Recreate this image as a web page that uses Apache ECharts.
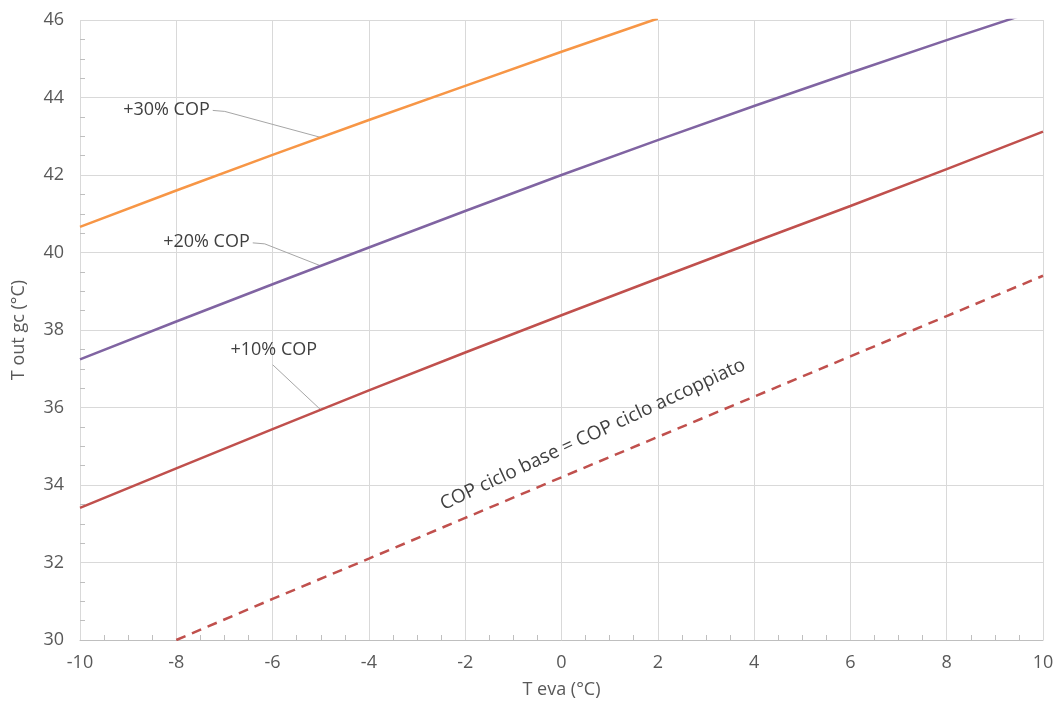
<!DOCTYPE html>
<html>
<head>
<meta charset="utf-8">
<script src="https://cdn.jsdelivr.net/npm/echarts@6/dist/echarts.min.js"></script>
<style>
  html, body { margin: 0; padding: 0; background: #fff; }
  #chart { width: 1057px; height: 711px; }
</style>
</head>
<body>
<div id="chart"></div>
<script>
// Evaporation temperature (°C)
const tEva = [-10, -8, -6, -4, -2, 0, 2, 4, 6, 8, 10];

// Gas-cooler outlet temperature (°C) for each COP gain curve
const cop30 = [40.66, 41.6, 42.52, 43.42, 44.3, 45.18, 46.04];
const cop20 = [37.24, 38.22, 39.18, 40.13, 41.07, 42.0, 42.9, 43.78, 44.64, 45.48, 46.3];
const cop10 = [33.41, 34.43, 35.44, 36.44, 37.42, 38.38, 39.33, 40.27, 41.2, 42.15, 43.12];
const copBase = [null, 30.0, 31.06, 32.1, 33.15, 34.2, 35.24, 36.28, 37.32, 38.36, 39.4];

const seriesNames = ['+30% COP', '+20% COP', '+10% COP', 'COP ciclo base = COP ciclo accoppiato'];

const xTicks = { min: -10, max: 10, interval: 2 };
const yTicks = { min: 30, max: 46, interval: 2 };

function pairs(values) {
  return values.map((v, i) => [tEva[i], v]);
}

const FONT = '"Open Sans", "Liberation Sans", sans-serif';
const TEXT = '#595959';

const chart = echarts.init(document.getElementById('chart'), null, { renderer: 'canvas' });

const option = {
  animation: false,
  backgroundColor: '#ffffff',
  textStyle: { fontFamily: FONT },
  grid: { left: 80, right: 14, top: 20, bottom: 71, containLabel: false },
  xAxis: {
    type: 'value',
    min: xTicks.min, max: xTicks.max, interval: xTicks.interval,
    name: 'T eva (°C)',
    nameLocation: 'middle',
    nameGap: 41,
    nameTextStyle: { color: TEXT, fontSize: 18, fontFamily: FONT },
    axisLine: { show: true, onZero: false, lineStyle: { color: '#BFBFBF', width: 1 } },
    axisTick: { show: false, inside: true },
    minorTick: { show: true, splitNumber: 4, length: 5, lineStyle: { color: '#BFBFBF', width: 1 } },
    axisLabel: { color: TEXT, fontSize: 18, fontFamily: FONT, margin: 14 },
    splitLine: { show: true, lineStyle: { color: '#D9D9D9', width: 1 } }
  },
  yAxis: {
    type: 'value',
    min: yTicks.min, max: yTicks.max, interval: yTicks.interval,
    name: 'T out gc (°C)',
    nameLocation: 'middle',
    nameGap: 52,
    nameTextStyle: { color: TEXT, fontSize: 18, fontFamily: FONT },
    axisLine: { show: false, onZero: false },
    axisTick: { show: false, inside: true },
    minorTick: { show: true, splitNumber: 4, length: 5, lineStyle: { color: '#BFBFBF', width: 1 } },
    axisLabel: { color: TEXT, fontSize: 18, fontFamily: FONT, margin: 16 },
    splitLine: { show: true, lineStyle: { color: '#D9D9D9', width: 1 } }
  },
  series: [
    {
      name: seriesNames[0], type: 'line', data: pairs(cop30), showSymbol: false,
      lineStyle: { color: '#F79646', width: 2.5 }, itemStyle: { color: '#F79646' }
    },
    {
      name: seriesNames[1], type: 'line', data: pairs(cop20), showSymbol: false,
      lineStyle: { color: '#8064A2', width: 2.5 }, itemStyle: { color: '#8064A2' }
    },
    {
      name: seriesNames[2], type: 'line', data: pairs(cop10), showSymbol: false,
      lineStyle: { color: '#C0504D', width: 2.5 }, itemStyle: { color: '#C0504D' }
    },
    {
      name: seriesNames[3], type: 'line', data: pairs(copBase), showSymbol: false, connectNulls: false,
      lineStyle: { color: '#C0504D', width: 2.5, type: [10, 7] }, itemStyle: { color: '#C0504D' }
    }
  ]
};

chart.setOption(option);

// Value of a curve at x, read linearly between its sampled points
function valueAt(values, x) {
  for (let i = 0; i < values.length - 1; i++) {
    const x0 = tEva[i], x1 = tEva[i + 1];
    if (x >= x0 && x <= x1 && values[i] != null && values[i + 1] != null) {
      return values[i] + (values[i + 1] - values[i]) * (x - x0) / (x1 - x0);
    }
  }
  return null;
}

// Callout labels with leader lines pointing at each curve at T eva = -5
const callouts = [
  { text: seriesNames[0], values: cop30, dx: -108, dy: -27 },
  { text: seriesNames[1], values: cop20, dx: -68, dy: -23 },
  { text: seriesNames[2], values: cop10, dx: -48, dy: -45 }
];

const graphics = [];
callouts.forEach((c, idx) => {
  const anchor = chart.convertToPixel({ gridIndex: 0 }, [-5, valueAt(c.values, -5)]);
  const start = [anchor[0] + c.dx, anchor[1] + c.dy];
  let pts;
  if (idx < 2) {
    pts = [start, [start[0] + 12, start[1] + 1], anchor];
    graphics.push({
      type: 'text', x: start[0] - 3, y: start[1] - 1,
      style: { text: c.text, fill: '#404040', font: '18px ' + FONT, align: 'right', verticalAlign: 'middle' }
    });
  } else {
    pts = [start, anchor];
    graphics.push({
      type: 'text', x: start[0] + 1, y: start[1] - 15,
      style: { text: c.text, fill: '#404040', font: '18px ' + FONT, align: 'center', verticalAlign: 'middle' }
    });
  }
  graphics.push({
    type: 'polyline', shape: { points: pts },
    style: { stroke: '#A6A6A6', lineWidth: 1, fill: null }, silent: true
  });
});

// Rotated caption for the dashed reference curve
const capPos = chart.convertToPixel({ gridIndex: 0 }, [0.65, 35.3]);
graphics.push({
  type: 'text', x: capPos[0], y: capPos[1], rotation: 25 * Math.PI / 180,
  style: { text: seriesNames[3], fill: '#404040', font: '19px ' + FONT, align: 'center', verticalAlign: 'middle' }
});

chart.setOption({ graphic: graphics });
</script>
</body>
</html>
